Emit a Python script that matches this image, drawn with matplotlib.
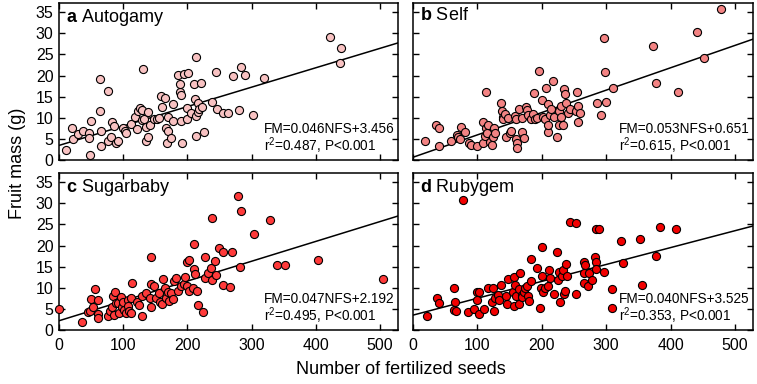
import numpy as np
from matplotlib import pyplot as plt

plt.rcParams['font.family'] = ['Liberation Sans', 'DejaVu Sans']
plt.rcParams['mathtext.fontset'] = 'custom'
plt.rcParams['mathtext.rm'] = 'Liberation Sans'
plt.rcParams['mathtext.bf'] = 'Liberation Sans:bold'

# panel a - Autogamy
a_x = [11, 20, 22, 29, 37, 46, 47, 48, 50, 64, 64, 65, 65, 76, 76, 81, 82, 85, 89, 92,
       99, 103, 105, 112, 118, 122, 123, 126, 129, 131, 130, 133, 135, 136, 138, 139, 142, 148, 152, 156,
       159, 161, 165, 166, 168, 170, 170, 174, 177, 178, 186, 188, 188, 190, 190, 192, 195, 201, 200, 200,
       205, 210, 212, 213, 214, 214, 216, 217, 218, 221, 222, 226, 239, 244, 246, 256, 263, 271, 280, 284,
       290, 302, 320, 422, 440, 437]
a_y = [2.4, 7.5, 4.9, 6.2, 6.9, 6.5, 5.2, 1.3, 9.2, 19.2, 11.5, 6.8, 3.3, 16.4, 4.5, 5.5, 9.1, 8.1, 4.0, 4.6,
       7.5, 6.9, 6.3, 8.5, 10.1, 7.3, 11.5, 12.3, 9.5, 21.5, 11.8, 9.7, 7.9, 4.5, 11.4, 5.5, 8.3, 9.7, 9.6, 9.9,
       15.2, 12.6, 14.8, 7.7, 4.1, 6.9, 10.3, 5.3, 13.2, 9.2, 20.1, 16.0, 17.9, 15.4, 9.3, 4.0, 20.4, 20.7, 9.7, 12.4,
       11.1, 17.9, 14.4, 24.5, 5.7, 10.5, 13.4, 11.4, 12.2, 18.3, 12.6, 6.6, 13.8, 20.9, 12.2, 11.1, 11.1, 19.9, 11.8, 22.1,
       20.1, 10.7, 19.4, 29.2, 26.6, 23.1]

# panel b - Self
b_x = [18, 36, 41, 40, 59, 68, 70, 73, 75, 81, 87, 90, 100, 108, 109, 112, 113, 113, 115, 117,
       119, 122, 124, 126, 128, 136, 138, 139, 140, 143, 144, 148, 150, 152, 158, 160, 160, 161, 162, 165,
       169, 170, 173, 176, 177, 179, 183, 186, 188, 189, 193, 196, 200, 202, 205, 207, 209, 209, 210, 212,
       215, 217, 219, 223, 226, 227, 230, 233, 235, 236, 238, 240, 244, 253, 254, 257, 257, 260, 230, 285,
       292, 296, 298, 299, 311, 373, 377, 412, 441, 452, 479]
b_y = [4.5, 8.3, 7.7, 3.2, 4.5, 5.9, 5.4, 5.0, 7.9, 6.7, 4.1, 3.6, 3.3, 9.0, 4.0, 5.7, 16.2, 7.5, 6.3, 8.3,
       4.3, 3.6, 5.5, 7.7, 6.5, 13.6, 11.6, 10.3, 9.6, 10.8, 5.4, 9.9, 6.5, 6.9, 10.4, 9.6, 4.9, 4.0, 2.9, 12.2,
       9.9, 6.7, 5.1, 12.5, 11.8, 10.7, 9.6, 10.9, 15.9, 9.6, 9.9, 21.1, 14.2, 10.3, 9.6, 17.0, 6.7, 8.3, 13.3, 10.7,
       12.2, 18.8, 10.1, 5.5, 8.3, 11.7, 12.8, 8.3, 16.8, 15.6, 13.6, 11.2, 12.2, 11.7, 16.2, 9.1, 12.8, 11.1, 10.3, 13.4,
       10.7, 28.8, 20.8, 13.7, 17.0, 27.0, 18.3, 16.2, 30.4, 24.1, 35.7]

# panel c - Sugarbaby
c_x = [0.5, 36, 45, 48, 50, 53, 56, 60, 61, 61, 76, 79, 82, 84, 85, 87, 89, 92, 94, 96,
       98, 100, 102, 104, 107, 107, 109, 112, 112, 113, 122, 124, 129, 130, 135, 142, 143, 143, 144, 148,
       151, 156, 158, 161, 162, 165, 166, 169, 171, 174, 177, 179, 182, 185, 190, 195, 197, 199, 200, 202,
       203, 209, 210, 210, 212, 215, 217, 224, 227, 228, 232, 236, 238, 239, 243, 245, 249, 256, 256, 266,
       270, 279, 284, 282, 304, 329, 339, 352, 404, 505]
c_y = [4.9, 2.0, 4.2, 4.4, 7.4, 5.5, 9.7, 7.0, 3.8, 2.9, 3.4, 4.5, 5.5, 8.1, 3.6, 9.0, 6.3, 6.5, 4.1, 7.9,
       5.5, 6.7, 4.8, 4.0, 7.0, 5.7, 4.4, 4.1, 7.7, 11.1, 6.7, 5.9, 3.2, 8.1, 8.7, 7.7, 17.2, 10.9, 5.4, 10.5,
       7.7, 8.7, 6.6, 6.1, 12.0, 10.0, 7.5, 8.9, 6.9, 8.7, 7.4, 11.6, 12.3, 9.3, 10.5, 10.9, 12.5, 16.0, 10.5, 16.6,
       9.3, 9.9, 20.4, 14.5, 13.2, 9.3, 5.9, 4.3, 12.3, 17.3, 13.6, 14.7, 26.5, 11.9, 16.4, 13.1, 19.4, 18.6, 10.7, 10.3,
       18.4, 31.7, 28.3, 15.0, 22.7, 26.0, 15.4, 15.5, 16.6, 12.1]

# panel d - Rubygem
d_x = [21, 37, 41, 64, 65, 64, 67, 78, 85, 95, 99, 100, 103, 103, 111, 117, 122, 124, 126, 128,
       132, 134, 137, 144, 146, 148, 155, 157, 158, 157, 160, 164, 165, 166, 169, 170, 172, 174, 177, 178,
       180, 183, 184, 192, 197, 198, 200, 201, 202, 205, 210, 211, 212, 219, 223, 225, 226, 228, 231, 233,
       235, 236, 237, 239, 244, 253, 253, 266, 267, 266, 266, 272, 274, 278, 282, 284, 284, 284, 289, 297,
       309, 309, 323, 326, 353, 356, 377, 384, 408]
d_y = [3.2, 7.5, 6.5, 10.0, 6.7, 4.8, 4.5, 30.7, 4.3, 4.9, 9.1, 7.1, 3.8, 8.9, 5.0, 9.9, 6.7, 9.9, 4.5, 7.5,
       8.3, 7.0, 10.7, 8.1, 6.2, 12.0, 9.1, 12.5, 10.7, 5.8, 8.1, 6.2, 9.7, 13.6, 8.3, 7.8, 9.1, 9.9, 10.5, 8.1,
       6.9, 16.8, 11.6, 14.8, 5.3, 10.0, 12.8, 19.6, 9.1, 9.9, 10.5, 14.1, 12.3, 8.6, 18.4, 11.9, 13.8, 6.6, 12.7, 14.3,
       8.5, 9.3, 15.6, 12.8, 25.6, 25.3, 8.5, 16.2, 15.4, 13.5, 11.1, 10.5, 13.6, 11.9, 17.4, 16.2, 14.4, 23.9, 23.9, 13.7,
       9.7, 5.3, 21.1, 15.8, 21.5, 10.7, 17.6, 24.4, 24.0]

labels = ['a', 'b', 'c', 'd']
names = ['Autogamy', 'Self', 'Sugarbaby', 'Rubygem']
slopes = [0.046, 0.053, 0.047, 0.040]
intercepts = [3.456, 0.651, 2.192, 3.525]
r2 = ['0.487', '0.615', '0.495', '0.353']
colors = ['#F8C2C2', '#F38383', '#FF3A3A', '#F20000']
xs = [a_x, b_x, c_x, d_x]
ys = [a_y, b_y, c_y, d_y]

W, H = 757, 384
fig = plt.figure(figsize=(W / 100, H / 100), dpi=100)

boxes = [(59, 3, 398, 160), (413, 3, 753, 160), (59, 173, 398, 330), (413, 173, 753, 330)]
xmax = 528
ymax = 37.2

for i in range(4):
    l, t, r, b = boxes[i]
    ax = fig.add_axes([l / W, (H - b) / H, (r - l) / W, (b - t) / H])
    ax.scatter(xs[i], ys[i], s=34, c=colors[i], edgecolors='black', linewidths=0.8, zorder=3, clip_on=False)
    xl = np.array([0, xmax])
    ax.plot(xl, slopes[i] * xl + intercepts[i], color='black', lw=1.1, zorder=2)
    ax.set_xlim(0, xmax)
    ax.set_ylim(0, ymax)
    ax.set_xticks([0, 100, 200, 300, 400, 500])
    ax.set_yticks([0, 5, 10, 15, 20, 25, 30, 35])
    ax.tick_params(direction='in', top=True, right=True, length=4, width=1, labelsize=11.5, pad=6)
    ax.tick_params(axis='y', pad=4)
    if i < 2:
        ax.tick_params(labelbottom=False)
    if i % 2 == 1:
        ax.tick_params(labelleft=False)
    for sp in ax.spines.values():
        sp.set_linewidth(1.1)
    ax.text(0.022, 0.975, r'$\mathbf{' + labels[i] + '}$ ' + names[i], transform=ax.transAxes,
            ha='left', va='top', fontsize=13)
    ax.text(0.605, 0.172, 'FM=%.3fNFS+%.3f' % (slopes[i], intercepts[i]), transform=ax.transAxes,
            ha='left', va='baseline', fontsize=9.8)
    ax.text(0.605, 0.057, 'r$^2$=' + r2[i] + ', P<0.001', transform=ax.transAxes,
            ha='left', va='baseline', fontsize=9.8)

fig.text(18 / W, (H - 163) / H, 'Fruit mass (g)', rotation=90, ha='center', va='center', fontsize=13)
fig.text(401 / W, (H - 370) / H, 'Number of fertilized seeds', ha='center', va='center', fontsize=13)

plt.savefig('out.png', dpi=100)
